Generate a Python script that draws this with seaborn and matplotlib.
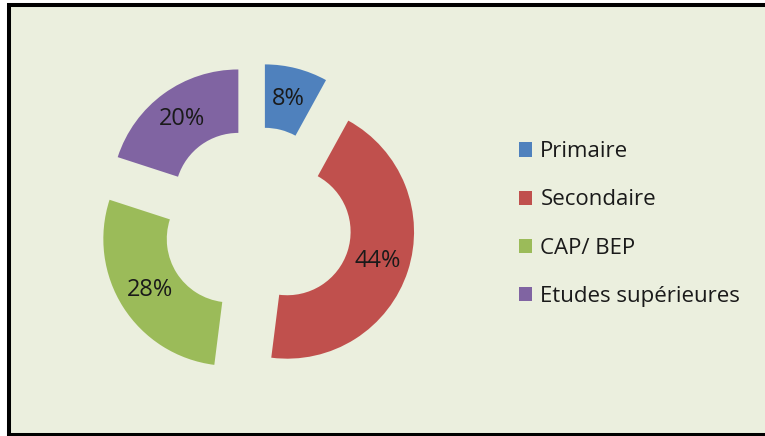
import matplotlib
matplotlib.use("Agg")
import matplotlib.pyplot as plt
from matplotlib.patches import Rectangle
import seaborn as sns

# Niveau de formation
categories = ["Primaire", "Secondaire", "CAP/ BEP", "Etudes supérieures"]
shares = [8, 44, 28, 20]
colors = ["#4F81BD", "#C0504D", "#9BBB59", "#8064A2"]

sns.set_theme(style="white")
plt.rcParams["font.family"] = ["Open Sans", "DejaVu Sans"]

W, H = 765, 436
fig = plt.figure(figsize=(W / 100, H / 100), dpi=100, facecolor="white")

# chart area with thick black frame (open on the right side)
fig.patches.append(Rectangle((9 / W, 1 / H), (775 - 9) / W, (431 - 1) / H,
                             transform=fig.transFigure, facecolor="#EBEFDE",
                             edgecolor="black", linewidth=2.9, zorder=-5))

# square axes centred on the donut
cx, cy, half = 257, 222, 203
ax = fig.add_axes([(cx - half) / W, (H - cy - half) / H, 2 * half / W, 2 * half / H])
ax.set_facecolor("none")
ax.set_zorder(2)

palette = sns.color_palette(colors)
wedges, texts, autotexts = ax.pie(
    shares, colors=palette, startangle=90, counterclock=False,
    explode=[0.25] * len(shares), radius=1.0,
    wedgeprops=dict(width=0.5, linewidth=0),
    autopct=lambda p: f"{p:.0f}%", pctdistance=0.75,
    textprops=dict(fontsize=17, color="#1a1a1a"),
)
ax.set_xlim(-1.6, 1.6)
ax.set_ylim(-1.6, 1.6)
ax.set_aspect("equal")
ax.axis("off")

leg = fig.legend(wedges, categories, loc="center left",
                 bbox_to_anchor=(519 / W, (H - 224) / H),
                 frameon=False, fontsize=16, labelcolor="#1a1a1a",
                 handlelength=0.6, handleheight=0.6, handletextpad=0.36,
                 labelspacing=1.22, borderpad=0, borderaxespad=0)
leg.set_zorder(3)

fig.savefig("out.png", dpi=100, facecolor=fig.get_facecolor())
